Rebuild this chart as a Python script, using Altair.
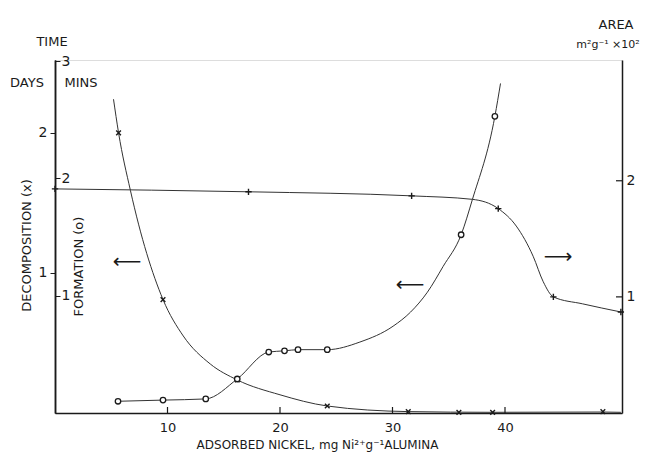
import altair as alt
import pandas as pd

# ---- data ----
# Decomposition (x) markers, time in days
deco_x = [5.65, 9.6, 16.2, 24.2, 31.4, 35.9, 38.9, 48.7]
deco_days = [2.0, 0.81, 0.236, 0.05, 0.01, 0.005, 0.005, 0.01]
# traced decomposition curve
deco_curve_x = [5.2, 5.65, 6.7, 9.6, 11.4, 13.8, 16.2, 20.0, 24.2, 31.4, 38.9, 48.7, 50.3]
deco_curve_days = [2.24, 2.0, 1.59, 0.81, 0.55, 0.35, 0.236, 0.13, 0.05, 0.01, 0.005, 0.007, 0.005]

# Formation (o) markers, time in minutes
form_x = [5.6, 9.6, 13.4, 16.2, 19.0, 20.4, 21.6, 24.2, 36.1, 39.1]
form_mins = [0.10, 0.11, 0.12, 0.29, 0.52, 0.53, 0.54, 0.54, 1.52, 2.53]
form_curve_x = [5.6, 9.6, 13.4, 16.2, 19.0, 20.4, 21.6, 24.2, 27.1, 30.05, 31.6, 33.1, 34.5, 36.1, 37.1, 39.1, 39.6]
form_curve_mins = [0.10, 0.11, 0.12, 0.29, 0.52, 0.53, 0.54, 0.54, 0.605, 0.74, 0.86, 1.03, 1.25, 1.52, 1.82, 2.53, 2.81]

# Surface area (+), m2 g-1 x 10^2
area_x = [0, 17.2, 31.7, 39.4, 44.3, 50.3]
area_val = [1.93, 1.905, 1.87, 1.76, 1.0, 0.87]
area_curve_x = [0, 17.2, 31.7, 37.1, 39.4, 41.0, 42.5, 43.4, 44.3, 46.9, 50.3]
area_curve_val = [1.93, 1.905, 1.87, 1.84, 1.76, 1.61, 1.35, 1.13, 1.0, 0.94, 0.87]

x_ticks = [10, 20, 30, 40]
days_ticks = [1, 2]
mins_ticks = [1, 2, 3]
area_ticks = [1, 2]

W, H = 567, 353
FONT = "DejaVu Sans"
INK = "#1a1a1a"

X = alt.X(
    "x:Q",
    scale=alt.Scale(domain=[0, 50.4], nice=False, zero=False),
    axis=alt.Axis(
        values=x_ticks, format="d", ticks=False, tickSize=0, labelPadding=8,
        labelFontSize=13, labelFont=FONT, labelColor=INK,
        domainColor=INK, domainWidth=1.5, grid=False,
        title="ADSORBED NICKEL, mg Ni²⁺g⁻¹ALUMINA", titleFont=FONT,
        titleFontSize=12, titleFontWeight="normal", titleColor=INK,
        titleX=262, titleY=31, titleBaseline="middle",
    ),
)

XCROSS = "M-1,-1L1,1M-1,1L1,-1"
PLUS = "M-1,0L1,0M0,-1L0,1"

# --- decomposition layer (days, left axis) ---
Yd = alt.Y(
    "y:Q",
    scale=alt.Scale(domain=[0, 2.52], nice=False, zero=True),
    axis=alt.Axis(
        orient="left", values=days_ticks, format="d", tickSize=5, tickColor=INK,
        labelPadding=3, labelFontSize=14, labelFont=FONT, labelColor=INK,
        domainColor=INK, domainWidth=1.5, grid=False,
        title="DECOMPOSITION (x)", titleAngle=270, titleFont=FONT, titleFontSize=13,
        titleFontWeight="normal", titleColor=INK, titleX=-22, titleY=185,
    ),
)
deco_curve_df = pd.DataFrame({"x": deco_curve_x, "y": deco_curve_days})
deco_df = pd.DataFrame({"x": deco_x, "y": deco_days})
xt_df = pd.DataFrame({"x": x_ticks})
deco = alt.layer(
    alt.Chart(deco_curve_df).mark_line(interpolate="monotone", color="#333", strokeWidth=1).encode(x=X, y=Yd),
    alt.Chart(deco_df).mark_point(shape=XCROSS, filled=False, color=INK, size=22, strokeWidth=1.4, opacity=1).encode(x=X, y=Yd),
    alt.Chart(xt_df).mark_rule(color=INK, strokeWidth=1.2).encode(x=X, y=alt.value(H), y2=alt.value(H - 6)),
)

# --- formation layer (minutes, inner axis on the left line) ---
Ym = alt.Y(
    "y:Q",
    scale=alt.Scale(domain=[0, 3.01], nice=False, zero=True),
    axis=alt.Axis(
        orient="right", offset=-W, values=mins_ticks, format="d", tickSize=5, tickColor=INK,
        labelPadding=1, labelFontSize=14, labelFont=FONT, labelColor=INK,
        domainColor=INK, domainWidth=1.5, grid=False,
        title="FORMATION (o)", titleAngle=270, titleFont=FONT, titleFontSize=13,
        titleFontWeight="normal", titleColor=INK, titleX=30, titleY=206,
    ),
)
form_curve_df = pd.DataFrame({"x": form_curve_x, "y": form_curve_mins})
form_df = pd.DataFrame({"x": form_x, "y": form_mins})
form = alt.layer(
    alt.Chart(form_curve_df).mark_line(interpolate="monotone", color="#333", strokeWidth=1).encode(x=X, y=Ym),
    alt.Chart(form_df).mark_point(shape="circle", filled=True, fill="white", stroke=INK, size=30, strokeWidth=1.3, opacity=1).encode(x=X, y=Ym),
)

# --- area layer (right axis) ---
Ya = alt.Y(
    "y:Q",
    scale=alt.Scale(domain=[0, 3.04], nice=False, zero=True),
    axis=alt.Axis(
        orient="right", values=area_ticks, format="d", ticks=False, tickSize=0,
        labelPadding=4, labelFontSize=14, labelFont=FONT, labelColor=INK,
        domainColor=INK, domainWidth=1.5, grid=False, title="",
    ),
)
area_curve_df = pd.DataFrame({"x": area_curve_x, "y": area_curve_val})
area_df = pd.DataFrame({"x": area_x, "y": area_val})
at_df = pd.DataFrame({"y": area_ticks})
area = alt.layer(
    alt.Chart(area_curve_df).mark_line(interpolate="monotone", color="#333", strokeWidth=1).encode(x=X, y=Ya),
    alt.Chart(area_df).mark_point(shape=PLUS, filled=False, color=INK, size=40, strokeWidth=1.4, opacity=1).encode(x=X, y=Ya),
    alt.Chart(at_df).mark_rule(color=INK, strokeWidth=1.2).encode(y=Ya, x=alt.value(W), x2=alt.value(W - 6)),
)

# --- annotations ---
dummy = pd.DataFrame({"a": [0]})


def note(text, x, y, size=13, **kw):
    return alt.Chart(dummy).mark_text(
        text=text, x=x, y=y, font=FONT, fontSize=size, color=INK, **kw
    )


notes = alt.layer(
    note("TIME", -3, -18),
    note("DAYS", -28, 23),
    note("MINS", 26, 23),
    note("AREA", 561, -35),
    note("m²g⁻¹ ×10²", 553, -15, size=11),
    note("⟵", 72, 202, size=20),
    note("⟵", 355, 225, size=20),
    note("⟶", 503, 197, size=20),
)

chart = (
    alt.layer(deco, form, area, notes)
    .resolve_scale(y="independent")
    .properties(
        width=W, height=H,
        autosize=alt.AutoSizeParams(type="none"),
        padding={"left": 47, "top": 52, "right": 21, "bottom": 40},
    )
    .configure_view(stroke=None)
    .configure(background="white")
)

chart.save("out.html", embed_options={"renderer": "svg", "actions": False})
